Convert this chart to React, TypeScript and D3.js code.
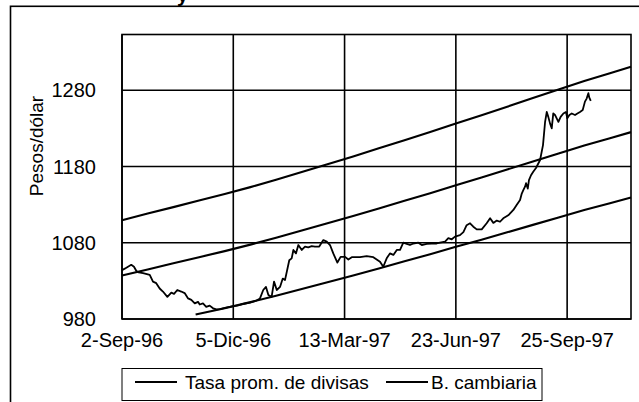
import React from "react";
import * as d3 from "d3";

// ---- data (x = trading-day index on a category axis) ----
const tickIdx = [0, 65, 130, 195, 260];
const tickLabels = ["2-Sep-96", "5-Dic-96", "13-Mar-97", "23-Jun-97", "25-Sep-97"];
const yTicks = [980, 1080, 1180, 1280];

const tasaIdx = [0, 1.6, 5.4, 7.0, 8.4, 9.8, 12.3, 16.2, 18.1, 20.0, 22.0, 23.9, 26.5, 28.8, 30.4, 32.3, 34.6, 36.6, 38.6, 40.5, 42.5, 44.4, 45.4, 47.3, 49.2, 51.2, 53.2, 55.1, 57.2, 60.7, 64.3, 67.8, 71.3, 74.8, 78.3, 80.6, 82.5, 84.1, 85.5, 87.4, 88.8, 90.4, 92.3, 93.9, 95.2, 97.7, 99.1, 100.1, 101.6, 103.0, 105.0, 106.9, 108.8, 110.8, 112.7, 115.2, 117.6, 119.6, 121.5, 123.4, 125.8, 127.7, 130.3, 132.2, 134.2, 139.0, 142.9, 146.8, 150.7, 152.6, 154.6, 156.5, 158.5, 160.5, 162.4, 164.3, 166.3, 168.2, 170.2, 173.1, 175.1, 178.0, 180.9, 183.8, 185.7, 188.7, 190.6, 192.6, 194.5, 197.4, 199.4, 201.3, 203.3, 205.2, 207.2, 210.1, 213.0, 215.0, 216.9, 218.9, 220.8, 222.7, 225.6, 228.6, 230.5, 232.5, 233.5, 234.4, 235.4, 236.0, 237.0, 237.7, 238.9, 240.2, 241.8, 244.2, 245.9, 247.1, 248.1, 249.0, 250.0, 251.0, 251.9, 252.9, 253.9, 254.9, 256.2, 257.8, 259.3, 260.1, 261.3, 262.7, 264.6, 266.0, 267.5, 269.1, 270.4, 271.4, 272.4, 272.9, 273.8];
const tasaVal = [1044, 1046, 1051, 1048.5, 1043, 1041, 1040, 1038, 1029, 1027, 1020, 1016, 1009, 1014.5, 1013, 1018, 1016, 1014, 1007, 1005, 1000.5, 1002.5, 999, 1000.5, 996, 997.5, 994, 992.5, 993, 995, 996.5, 998, 1000, 1001.5, 1004, 1007, 1018, 1022, 1011.5, 1009, 1029, 1018, 1022, 1033, 1031, 1057, 1059.5, 1070.5, 1066, 1077, 1070.5, 1075, 1074, 1075.5, 1075, 1075, 1083.5, 1081.5, 1077, 1066, 1054, 1061.5, 1061.5, 1058, 1061, 1061, 1062.5, 1061, 1055, 1048.5, 1059.5, 1066, 1064, 1070.5, 1070.5, 1080, 1078.5, 1077, 1079, 1080, 1077, 1078.5, 1079, 1079, 1080, 1081.5, 1086, 1084.5, 1088, 1090, 1094, 1103, 1105.5, 1101, 1097.5, 1097.5, 1105.5, 1112, 1106, 1109, 1107.5, 1112, 1116, 1123, 1129.5, 1136, 1144.5, 1149, 1153.5, 1158, 1151, 1162, 1168.5, 1173, 1178, 1188.5, 1208, 1238, 1251.5, 1245, 1236.5, 1230, 1249.5, 1247.5, 1243, 1238.5, 1245, 1249.5, 1251.5, 1243, 1247.5, 1249.5, 1247.5, 1249.5, 1251.5, 1254, 1265, 1269, 1276, 1270.5, 1266];

const bandIdx = [0, 15, 30, 45, 60, 75, 90, 105, 120, 135, 150, 165, 180, 195, 210, 225, 240, 255, 270, 285, 297.3];
const bandCentral = [1037, 1045, 1053, 1061, 1069, 1077.5, 1086.5, 1096, 1105.5, 1115, 1125, 1135, 1145, 1155.5, 1165.5, 1176, 1186.5, 1197, 1207.5, 1217, 1225];
const bandUpper = [1109.6, 1118.2, 1126.7, 1135.3, 1143.8, 1152.9, 1162.6, 1172.7, 1182.9, 1193.1, 1203.8, 1214.5, 1225.2, 1236.4, 1247.1, 1258.3, 1269.6, 1280.8, 1292.0, 1302.2, 1310.8];
const lowerIdx = [43, 60, 75, 90, 105, 120, 135, 150, 165, 180, 195, 210, 225, 240, 255, 270, 285, 297.3];
const bandLower = [985.8, 994.2, 1002.1, 1010.4, 1019.3, 1028.1, 1037.0, 1046.3, 1055.6, 1064.9, 1074.6, 1083.9, 1093.7, 1103.4, 1113.2, 1123.0, 1131.8, 1139.3];

const legendLabels = ["Tasa prom. de divisas", "B. cambiaria"];

export default function App() {
  const W = 639, H = 402;
  const L = 122, R = 631, T = 34.5, B = 319;
  const x = d3.scaleLinear().domain([0, 297.3]).range([L, R]);
  const y = d3.scaleLinear().domain([980, 1353]).range([B, T]);
  const line = d3.line<[number, number]>().x(d => x(d[0])).y(d => y(d[1]));
  const zip = (a: number[], b: number[]) => a.map((v, i) => [v, b[i]] as [number, number]);
  const font = "'Liberation Sans', Arial, sans-serif";

  return (
    <svg width={W} height={H} style={{ position: "absolute", left: 0, top: 0, background: "#fff" }}
      fontFamily={font}>
      <rect x={0} y={0} width={W} height={H} fill="#fff" />
      <text x={177} y={2} fontSize={20} fontWeight="bold" fill="#000">y</text>
      {/* outer chart frame */}
      <rect x={10.5} y={6.3} width={W + 20} height={H + 20} fill="none" stroke="#000" strokeWidth={1.6} />
      {/* gridlines */}
      {yTicks.map(t => (
        <line key={"gy" + t} x1={L} x2={R} y1={y(t)} y2={y(t)} stroke="#000" strokeWidth={1.6} />
      ))}
      {tickIdx.map(t => (
        <line key={"gx" + t} x1={x(t)} x2={x(t)} y1={T} y2={B} stroke="#000" strokeWidth={1.6} />
      ))}
      <rect x={L} y={T} width={R - L} height={B - T} fill="none" stroke="#000" strokeWidth={1.6} />
      {/* series */}
      <path d={line(zip(bandIdx, bandUpper)) || ""} fill="none" stroke="#000" strokeWidth={2.1} />
      <path d={line(zip(bandIdx, bandCentral)) || ""} fill="none" stroke="#000" strokeWidth={2.1} />
      <path d={line(zip(lowerIdx, bandLower)) || ""} fill="none" stroke="#000" strokeWidth={2.1} />
      <path d={line(zip(tasaIdx, tasaVal)) || ""} fill="none" stroke="#000" strokeWidth={1.8} strokeLinejoin="round" />
      {/* y ticks */}
      {yTicks.map(t => (
        <text key={"ty" + t} x={96} y={y(t)} dy="0.36em" textAnchor="end" fontSize={20} fill="#000">{t}</text>
      ))}
      {/* x ticks */}
      {tickIdx.map((t, i) => (
        <text key={"tx" + t} x={x(t)} y={347} textAnchor="middle" fontSize={20} fill="#000">{tickLabels[i]}</text>
      ))}
      {/* y axis title */}
      <text transform={`translate(43,146) rotate(-90)`} textAnchor="middle" fontSize={19} fill="#000">Pesos/dólar</text>
      {/* legend */}
      <rect x={122} y={368.5} width={420} height={32} fill="#fff" stroke="#000" strokeWidth={1} />
      <line x1={135} x2={177} y1={382} y2={382} stroke="#000" strokeWidth={1.8} />
      <text x={185} y={389} fontSize={19} fill="#000">{legendLabels[0]}</text>
      <line x1={386} x2={428} y1={382} y2={382} stroke="#000" strokeWidth={1.8} />
      <text x={431} y={389} fontSize={19} fill="#000">{legendLabels[1]}</text>
    </svg>
  );
}
